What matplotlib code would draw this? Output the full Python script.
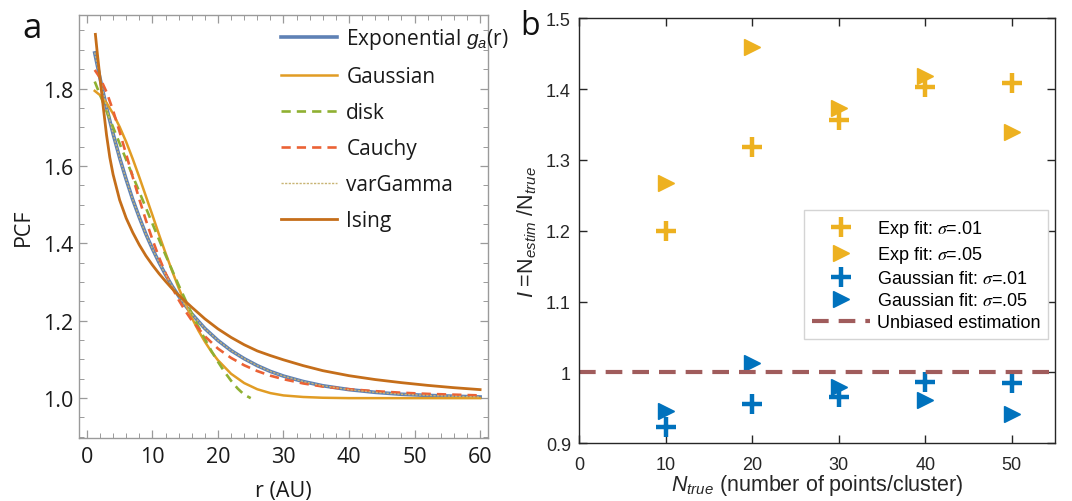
# Two-panel figure: (a) pair correlation functions, (b) cluster size estimation bias

import matplotlib.pyplot as plt
from matplotlib.font_manager import FontProperties
from matplotlib.ticker import MultipleLocator, FormatStrFormatter

plt.rcParams['font.family'] = 'Liberation Sans'
plt.rcParams['mathtext.fontset'] = 'custom'
plt.rcParams['mathtext.rm'] = 'Liberation Sans'
plt.rcParams['mathtext.it'] = 'Liberation Sans:italic'

# ---- panel a data
r_exp = [1.2, 2, 3, 4, 5, 6, 7, 8, 9, 10, 11, 12, 13, 14, 15, 16, 18, 20, 22, 24,
         26, 28, 30, 33, 36, 40, 44, 48, 52, 56, 60]
pcf_exp = [1.892, 1.827, 1.751, 1.683, 1.621, 1.565, 1.513, 1.467, 1.424, 1.386,
           1.351, 1.319, 1.290, 1.264, 1.240, 1.218, 1.180, 1.149, 1.123, 1.102,
           1.084, 1.069, 1.057, 1.043, 1.032, 1.022, 1.015, 1.010, 1.007, 1.005, 1.003]
pcf_vargamma = [1.893, 1.828, 1.752, 1.683, 1.621, 1.565, 1.513, 1.467, 1.424, 1.386,
                1.351, 1.319, 1.290, 1.264, 1.240, 1.218, 1.180, 1.149, 1.123, 1.102,
                1.084, 1.069, 1.057, 1.043, 1.032, 1.022, 1.015, 1.010, 1.007, 1.005, 1.003]

r_gauss = [1.2, 2, 3, 4, 5, 6, 7, 8, 9, 10, 11, 12, 13, 14, 15, 16, 17, 18, 19, 20,
           22, 24, 26, 28, 30, 33, 36, 40, 50, 60]
pcf_gauss = [1.794, 1.783, 1.763, 1.735, 1.701, 1.662, 1.618, 1.571, 1.522, 1.473,
             1.423, 1.375, 1.329, 1.285, 1.245, 1.208, 1.175, 1.146, 1.120, 1.098,
             1.063, 1.039, 1.023, 1.013, 1.007, 1.003, 1.001, 1.000, 1.000, 1.000]

r_disk = [1.2, 2, 3, 4, 5, 6, 7, 8, 9, 10, 11, 12, 13, 14, 15, 16, 17, 18, 19, 20,
          21, 22, 23, 24, 25]
pcf_disk = [1.818, 1.784, 1.742, 1.700, 1.658, 1.616, 1.574, 1.533, 1.492, 1.451,
            1.410, 1.370, 1.331, 1.292, 1.255, 1.219, 1.185, 1.153, 1.122, 1.094,
            1.068, 1.045, 1.025, 1.009, 1.000]

r_cauchy = [1.2, 2, 3, 4, 5, 6, 7, 8, 9, 10, 11, 12, 13, 14, 15, 16, 18, 20, 22, 24,
            26, 28, 30, 33, 36, 40, 44, 48, 52, 56, 60]
pcf_cauchy = [1.848, 1.828, 1.791, 1.743, 1.688, 1.630, 1.571, 1.514, 1.460, 1.410,
              1.364, 1.323, 1.286, 1.254, 1.226, 1.201, 1.160, 1.128, 1.104, 1.085,
              1.070, 1.058, 1.049, 1.038, 1.030, 1.023, 1.018, 1.014, 1.011, 1.009, 1.007]

r_ising = [1.3, 1.6, 2.0, 2.5, 3.0, 3.5, 4.0, 5.0, 6.0, 7.0, 8.0, 9.0, 10, 11, 12, 13,
           14, 16, 18, 20, 22, 24, 26, 28, 30, 33, 36, 40, 44, 48, 52, 56, 60]
pcf_ising = [1.940, 1.890, 1.828, 1.752, 1.680, 1.622, 1.578, 1.512, 1.465, 1.428,
             1.396, 1.368, 1.344, 1.322, 1.302, 1.283, 1.266, 1.235, 1.205, 1.179,
             1.157, 1.138, 1.122, 1.110, 1.099, 1.084, 1.071, 1.058, 1.048, 1.040,
             1.033, 1.027, 1.022]

# ---- panel b data
n_true = [10, 20, 30, 40, 50]
exp_s01 = [1.200, 1.318, 1.357, 1.403, 1.409]
exp_s05 = [1.267, 1.460, 1.373, 1.418, 1.340]
gau_s01 = [0.923, 0.956, 0.965, 0.987, 0.985]
gau_s05 = [0.945, 1.014, 0.980, 0.961, 0.941]
unbiased = 1.0

fig = plt.figure(figsize=(10.72, 5.02), dpi=100)
axa = fig.add_axes([0.0737, 0.1255, 0.3815, 0.8426])
axb = fig.add_axes([0.5404, 0.1149, 0.4438, 0.8466])

# ---------------- panel a
axa.plot(r_exp, pcf_exp, color='#5E81B5', lw=2.6, label='Exponential $g_a$(r)')
axa.plot(r_gauss, pcf_gauss, color='#E19C24', lw=1.8, label='Gaussian')
axa.plot(r_disk, pcf_disk, color='#8FB032', lw=1.9, dashes=(3.5, 2.3), label='disk')
axa.plot(r_cauchy, pcf_cauchy, color='#EB6235', lw=1.9, dashes=(3.5, 2.3), label='Cauchy')
axa.plot(r_exp, pcf_vargamma, color='#C8B474', lw=1.0, dashes=(1.6, 1.0), label='varGamma')
axa.plot(r_ising, pcf_ising, color='#C56E1A', lw=2.0, label='Ising')

axa.set_xlim(-1.2, 61.2)
axa.set_ylim(0.897, 1.99)
axa.xaxis.set_major_locator(MultipleLocator(10))
axa.xaxis.set_minor_locator(MultipleLocator(2))
axa.yaxis.set_major_locator(MultipleLocator(0.2))
axa.yaxis.set_minor_locator(MultipleLocator(0.05))
axa.yaxis.set_major_formatter(FormatStrFormatter('%.1f'))
axa.tick_params(which='both', direction='in', top=True, right=True, color='#9a9a9a',
                labelcolor='#1a1a1a', labelsize=15.5, labelfontfamily='Open Sans')
axa.tick_params(which='major', length=6, width=0.9)
axa.tick_params(which='minor', length=3.5, width=0.7)
axa.tick_params(axis='x', pad=6)
axa.tick_params(axis='y', pad=4)
for sp in axa.spines.values():
    sp.set_color('#9a9a9a')
    sp.set_linewidth(1.0)
axa.set_xlabel('r (AU)', fontsize=15.5, family='Open Sans', color='#1a1a1a')
axa.set_ylabel('PCF', fontsize=15.5, family='Open Sans', color='#1a1a1a')
axa.xaxis.set_label_coords(0.5, -0.1)
axa.yaxis.set_label_coords(-0.11, 0.5)

leg_a = axa.legend(loc='upper left', bbox_to_anchor=(0.493, 0.973), frameon=False,
                   prop=FontProperties(family='Open Sans', size=15),
                   handlelength=2.7, handletextpad=0.45, labelspacing=0.72,
                   borderpad=0, borderaxespad=0)
for t in leg_a.get_texts():
    t.set_color('#1a1a1a')

# ---------------- panel b
yellow = '#EDB120'
blue = '#0072BD'
axb.plot(n_true, exp_s01, ls='none', marker='+', ms=14, mew=3.2, color=yellow,
         label=r'Exp fit: $\sigma$=.01')
axb.plot(n_true, exp_s05, ls='none', marker='>', ms=11, mec=yellow, mfc=yellow,
         label=r'Exp fit: $\sigma$=.05')
axb.plot(n_true, gau_s01, ls='none', marker='+', ms=14, mew=3.2, color=blue,
         label=r'Gaussian fit: $\sigma$=.01')
axb.plot(n_true, gau_s05, ls='none', marker='>', ms=11, mec=blue, mfc=blue,
         label=r'Gaussian fit: $\sigma$=.05')
axb.axhline(unbiased, color='#A05C5C', lw=3.0, dashes=(4.0, 2.4),
            label='Unbiased estimation')

axb.set_xlim(0, 55)
axb.set_ylim(0.9, 1.5)
axb.set_xticks([0, 10, 20, 30, 40, 50])
axb.set_yticks([0.9, 1.0, 1.1, 1.2, 1.3, 1.4, 1.5])
axb.set_yticklabels(['0.9', '1', '1.1', '1.2', '1.3', '1.4', '1.5'])
axb.tick_params(which='both', direction='in', top=True, right=True, length=6,
                width=1.0, color='#262626', labelcolor='#262626', labelsize=13)
axb.tick_params(axis='x', pad=9)
axb.tick_params(axis='y', pad=6)
for sp in axb.spines.values():
    sp.set_color('#262626')
    sp.set_linewidth(1.0)
axb.set_xlabel(r'$N_{true}$ (number of points/cluster)', fontsize=15.5, color='#262626')
axb.set_ylabel(r'$I$ =N$_{estim}$ /N$_{true}$', fontsize=15.5, color='#262626')
axb.xaxis.set_label_coords(0.5, -0.068)
axb.yaxis.set_label_coords(-0.085, 0.5)

axb.legend(loc='upper right', bbox_to_anchor=(0.986, 0.549), numpoints=1,
           prop=FontProperties(family='Liberation Sans', size=13, math_fontfamily='stix'),
           fancybox=False, edgecolor='#d4d4d4', framealpha=1, borderaxespad=0,
           handlelength=3.2, handletextpad=0.4, labelspacing=0.28, borderpad=0.45)

fig.text(0.0205, 0.925, 'a', fontsize=25, family='Open Sans', color='#111111')
fig.text(0.485, 0.93, 'b', fontsize=23, family='Open Sans', color='#111111')

fig.savefig('out.png', dpi=100)
